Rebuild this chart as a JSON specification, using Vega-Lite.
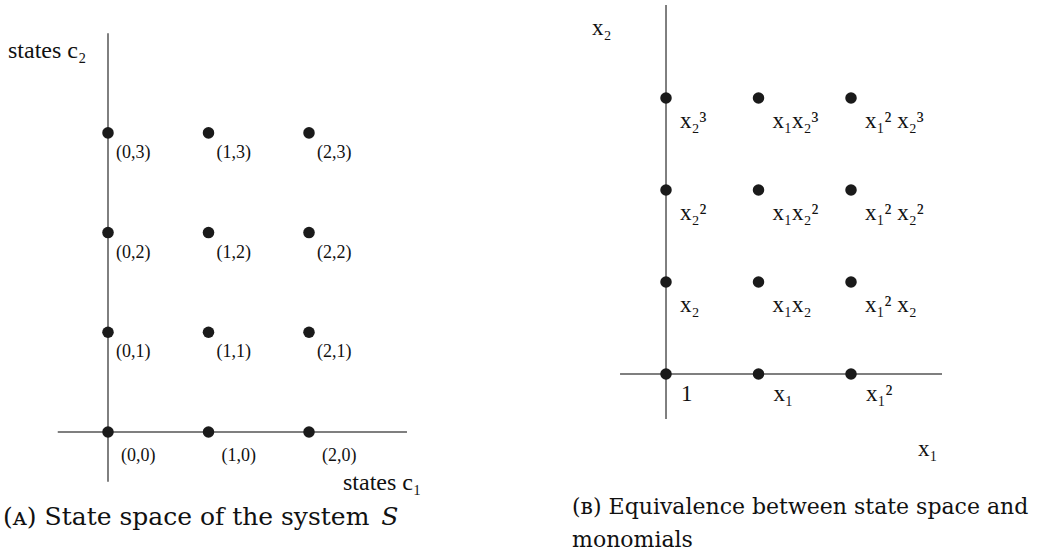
{
  "$schema": "https://vega.github.io/schema/vega-lite/v6.json",
  "padding": 0,
  "spacing": 130,
  "background": "white",
  "config": {"view": {"stroke": null}},
  "datasets": {
    "axesA": [
      {"x": -0.5, "y": 0, "x2": 2.975, "y2": 0},
      {"x": 0, "y": -0.5, "x2": 0, "y2": 4.0}
    ],
    "statesA": [
      {"c1": 0, "c2": 0, "label": "(0,0)"},
      {"c1": 1, "c2": 0, "label": "(1,0)"},
      {"c1": 2, "c2": 0, "label": "(2,0)"},
      {"c1": 0, "c2": 1, "label": "(0,1)"},
      {"c1": 1, "c2": 1, "label": "(1,1)"},
      {"c1": 2, "c2": 1, "label": "(2,1)"},
      {"c1": 0, "c2": 2, "label": "(0,2)"},
      {"c1": 1, "c2": 2, "label": "(1,2)"},
      {"c1": 2, "c2": 2, "label": "(2,2)"},
      {"c1": 0, "c2": 3, "label": "(0,3)"},
      {"c1": 1, "c2": 3, "label": "(1,3)"},
      {"c1": 2, "c2": 3, "label": "(2,3)"}
    ],
    "axesB": [
      {"x": -0.497, "y": 0, "x2": 2.984, "y2": 0},
      {"x": 0, "y": -0.489, "x2": 0, "y2": 4.011}
    ],
    "monomials": [
      {"e1": 0, "e2": 0, "label": "1"},
      {"e1": 1, "e2": 0, "label": "x₁"},
      {"e1": 2, "e2": 0, "label": "x₁²"},
      {"e1": 0, "e2": 1, "label": "x₂"},
      {"e1": 1, "e2": 1, "label": "x₁x₂"},
      {"e1": 2, "e2": 1, "label": "x₁² x₂"},
      {"e1": 0, "e2": 2, "label": "x₂²"},
      {"e1": 1, "e2": 2, "label": "x₁x₂²"},
      {"e1": 2, "e2": 2, "label": "x₁² x₂²"},
      {"e1": 0, "e2": 3, "label": "x₂³"},
      {"e1": 1, "e2": 3, "label": "x₁x₂³"},
      {"e1": 2, "e2": 3, "label": "x₁² x₂³"}
    ],
    "one": [{"k": 1}]
  },
  "hconcat": [
    {
      "width": 430,
      "height": 551,
      "layer": [
        {
          "data": {"name": "axesA"},
          "mark": {"type": "rule", "color": "#555555", "strokeWidth": 1.5},
          "encoding": {
            "x": {"field": "x", "type": "quantitative", "scale": {"domain": [-1.0746, 3.204], "nice": false, "zero": false}, "axis": null},
            "y": {"field": "y", "type": "quantitative", "scale": {"domain": [-1.194, 4.333], "nice": false, "zero": false}, "axis": null},
            "x2": {"field": "x2"},
            "y2": {"field": "y2"}
          }
        },
        {
          "data": {"name": "statesA"},
          "mark": {"type": "circle", "size": 133, "color": "#1a1a1a", "opacity": 1},
          "encoding": {
            "x": {"field": "c1", "type": "quantitative", "axis": null},
            "y": {"field": "c2", "type": "quantitative", "axis": null}
          }
        },
        {
          "data": {"name": "statesA"},
          "transform": [{"filter": "datum.c2 > 0"}],
          "mark": {"type": "text", "align": "left", "baseline": "alphabetic", "dx": 8, "dy": 25, "font": "Liberation Serif", "fontSize": 18, "color": "#111111"},
          "encoding": {
            "x": {"field": "c1", "type": "quantitative", "axis": null},
            "y": {"field": "c2", "type": "quantitative", "axis": null},
            "text": {"field": "label"}
          }
        },
        {
          "data": {"name": "statesA"},
          "transform": [{"filter": "datum.c2 == 0"}],
          "mark": {"type": "text", "align": "left", "baseline": "alphabetic", "dx": 13, "dy": 29, "font": "Liberation Serif", "fontSize": 18, "color": "#111111"},
          "encoding": {
            "x": {"field": "c1", "type": "quantitative", "axis": null},
            "y": {"field": "c2", "type": "quantitative", "axis": null},
            "text": {"field": "label"}
          }
        },
        {
          "data": {"name": "one"},
          "mark": {"type": "text", "align": "left", "baseline": "alphabetic", "font": "Liberation Serif", "fontSize": 24, "color": "#111111"},
          "encoding": {
            "x": {"datum": -0.995},
            "y": {"datum": 3.751},
            "text": {"value": "states c₂"}
          }
        },
        {
          "data": {"name": "one"},
          "mark": {"type": "text", "align": "left", "baseline": "alphabetic", "font": "Liberation Serif", "fontSize": 24, "color": "#111111"},
          "encoding": {
            "x": {"datum": 2.338},
            "y": {"datum": -0.582},
            "text": {"value": "states c₁"}
          }
        },
        {
          "data": {"name": "one"},
          "mark": {"type": "text", "align": "left", "baseline": "alphabetic", "font": "DejaVu Serif", "fontSize": 25, "color": "#111111"},
          "encoding": {
            "x": {"datum": -1.045},
            "y": {"datum": -0.933},
            "text": {"value": "(ᴀ) State space of the system"}
          }
        },
        {
          "data": {"name": "one"},
          "mark": {"type": "text", "align": "left", "baseline": "alphabetic", "font": "DejaVu Serif", "fontSize": 25, "fontStyle": "italic", "color": "#111111"},
          "encoding": {
            "x": {"datum": 2.72},
            "y": {"datum": -0.933},
            "text": {"value": "S"}
          }
        }
      ]
    },
    {
      "width": 485,
      "height": 551,
      "layer": [
        {
          "data": {"name": "axesB"},
          "mark": {"type": "rule", "color": "#555555", "strokeWidth": 1.5},
          "encoding": {
            "x": {"field": "x", "type": "quantitative", "scale": {"domain": [-1.146, 4.097], "nice": false, "zero": false}, "axis": null},
            "y": {"field": "y", "type": "quantitative", "scale": {"domain": [-1.924, 4.065], "nice": false, "zero": false}, "axis": null},
            "x2": {"field": "x2"},
            "y2": {"field": "y2"}
          }
        },
        {
          "data": {"name": "monomials"},
          "mark": {"type": "circle", "size": 133, "color": "#1a1a1a", "opacity": 1},
          "encoding": {
            "x": {"field": "e1", "type": "quantitative", "axis": null},
            "y": {"field": "e2", "type": "quantitative", "axis": null}
          }
        },
        {
          "data": {"name": "monomials"},
          "transform": [{"filter": "datum.e2 > 0"}],
          "mark": {"type": "text", "align": "left", "baseline": "alphabetic", "dx": 14, "dy": 30, "font": "Liberation Serif", "fontSize": 23, "color": "#111111"},
          "encoding": {
            "x": {"field": "e1", "type": "quantitative", "axis": null},
            "y": {"field": "e2", "type": "quantitative", "axis": null},
            "text": {"field": "label"}
          }
        },
        {
          "data": {"name": "monomials"},
          "transform": [{"filter": "datum.e2 == 0"}],
          "mark": {"type": "text", "align": "left", "baseline": "alphabetic", "dx": 15, "dy": 27, "font": "Liberation Serif", "fontSize": 23, "color": "#111111"},
          "encoding": {
            "x": {"field": "e1", "type": "quantitative", "axis": null},
            "y": {"field": "e2", "type": "quantitative", "axis": null},
            "text": {"field": "label"}
          }
        },
        {
          "data": {"name": "one"},
          "mark": {"type": "text", "align": "left", "baseline": "alphabetic", "font": "Liberation Serif", "fontSize": 23, "color": "#111111"},
          "encoding": {
            "x": {"datum": -0.8},
            "y": {"datum": 3.685},
            "text": {"value": "x₂"}
          }
        },
        {
          "data": {"name": "one"},
          "mark": {"type": "text", "align": "left", "baseline": "alphabetic", "font": "Liberation Serif", "fontSize": 23, "color": "#111111"},
          "encoding": {
            "x": {"datum": 2.724},
            "y": {"datum": -0.891},
            "text": {"value": "x₁"}
          }
        },
        {
          "data": {"name": "one"},
          "mark": {"type": "text", "align": "left", "baseline": "alphabetic", "font": "DejaVu Serif", "fontSize": 22, "color": "#111111"},
          "encoding": {
            "x": {"datum": -1.016},
            "y": {"datum": -1.522},
            "text": {"value": "(ʙ) Equivalence between state space and"}
          }
        },
        {
          "data": {"name": "one"},
          "mark": {"type": "text", "align": "left", "baseline": "alphabetic", "font": "DejaVu Serif", "fontSize": 22, "color": "#111111"},
          "encoding": {
            "x": {"datum": -1.016},
            "y": {"datum": -1.880},
            "text": {"value": "monomials"}
          }
        }
      ]
    }
  ]
}
